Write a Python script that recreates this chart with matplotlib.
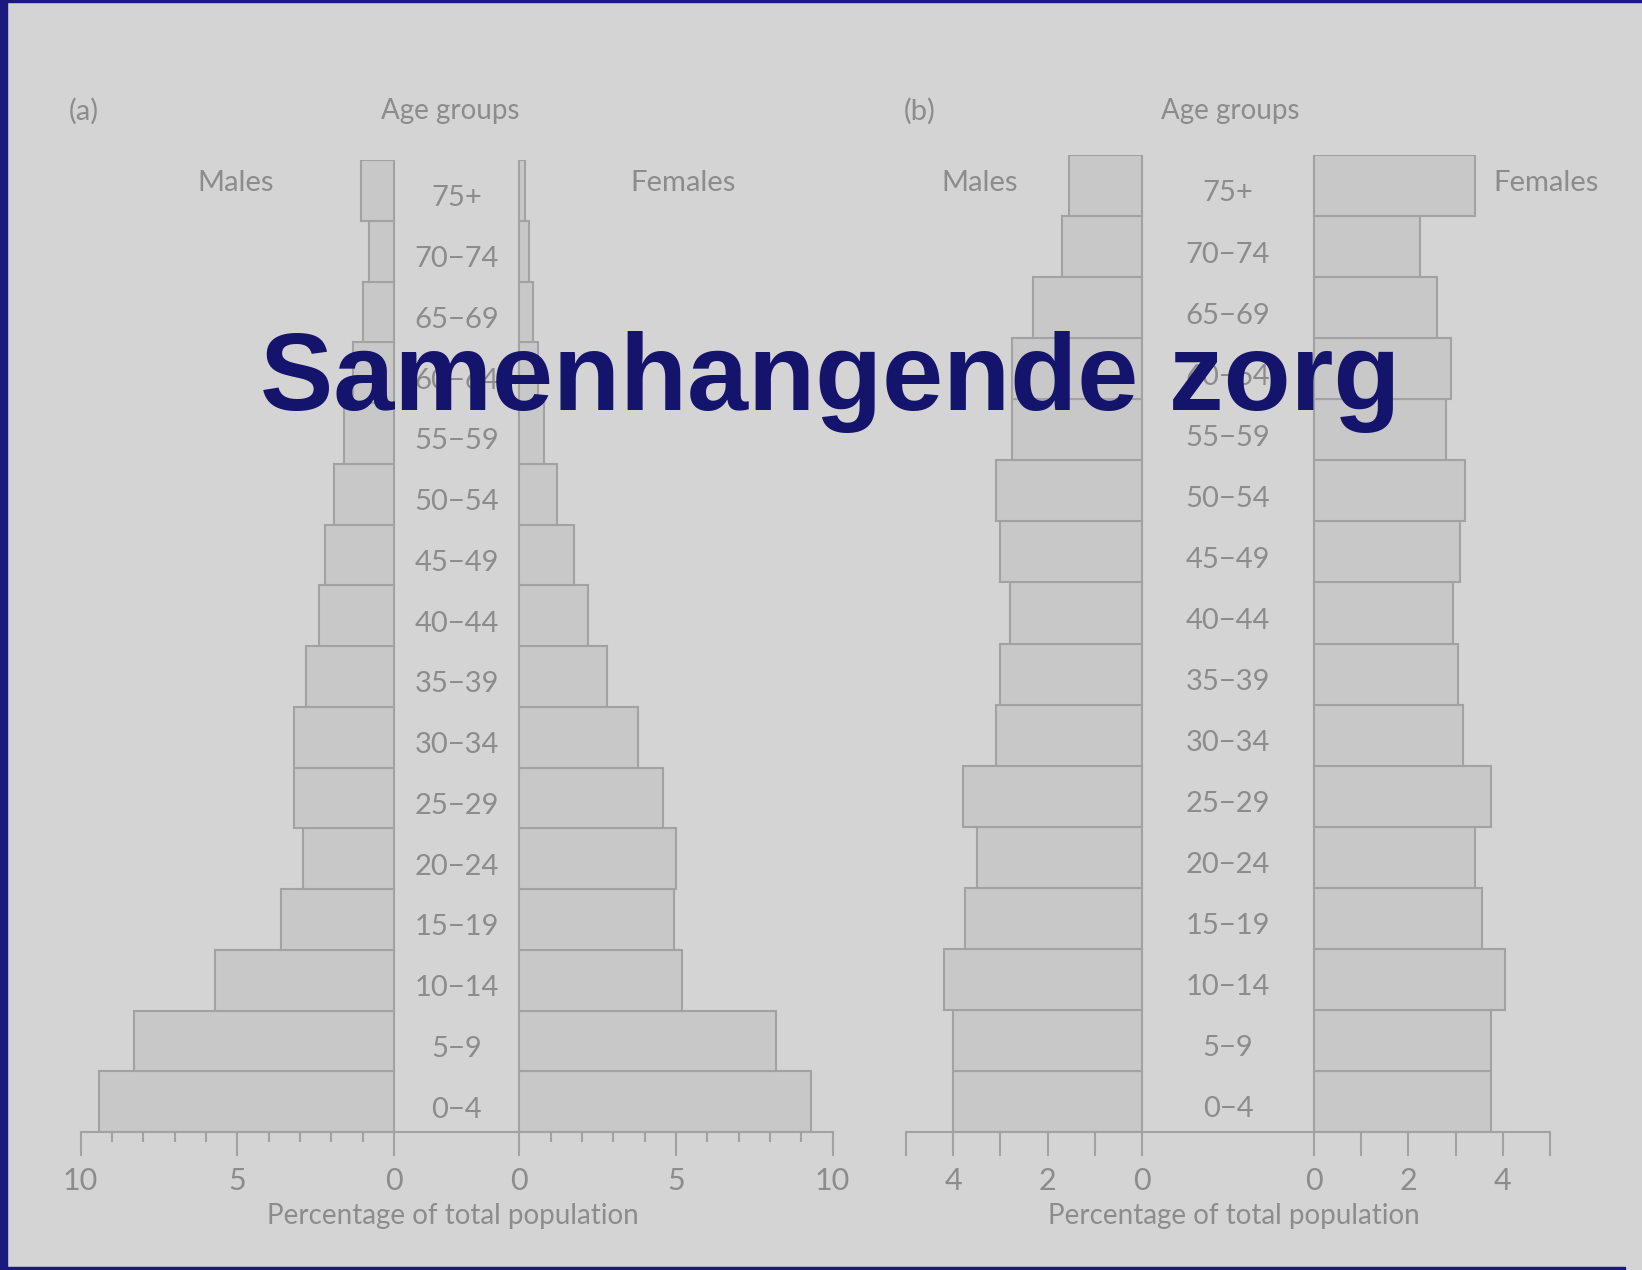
"""
population pyramids (a) and (b) with slide title
"""

import matplotlib.pyplot as plt
from matplotlib.patches import Rectangle

bg = '#d4d4d4'
bar_fill = '#c8c8c8'
bar_edge = '#a2a2a2'
text_gray = '#8c8c8c'
navy = '#14146c'
border = '#1a1a7e'

age_groups = ['0\u22124', '5\u22129', '10\u221214', '15\u221219', '20\u221224', '25\u221229',
              '30\u221234', '35\u221239', '40\u221244', '45\u221249', '50\u221254', '55\u221259',
              '60\u221264', '65\u221269', '70\u221274', '75+']

# (a) percentages, 0-4 first
males_a = [9.4, 8.3, 5.7, 3.6, 2.9, 3.2, 3.2, 2.8, 2.4, 2.2, 1.9, 1.6, 1.3, 1.0, 0.8, 1.05]
females_a = [9.3, 8.2, 5.2, 4.95, 5.0, 4.6, 3.8, 2.8, 2.2, 1.75, 1.2, 0.8, 0.6, 0.45, 0.3, 0.2]

# (b) percentages, 0-4 first
males_b = [4.0, 4.0, 4.2, 3.75, 3.5, 3.8, 3.1, 3.0, 2.8, 3.0, 3.1, 2.75, 2.75, 2.3, 1.7, 1.55]
females_b = [3.75, 3.75, 4.05, 3.55, 3.4, 3.75, 3.15, 3.05, 2.95, 3.1, 3.2, 2.8, 2.9, 2.6, 2.25, 3.4]

W, H = 1642, 1270
font = ['Lato', 'DejaVu Sans']
fs = 21


def px_axes(fig, left, top, right, bottom):
    # pixel box -> figure fraction
    return fig.add_axes([left / W, 1 - bottom / H, (right - left) / W, (bottom - top) / H])


def fig_text(fig, x, y, s, **kw):
    kw.setdefault('color', text_gray)
    kw.setdefault('family', font)
    kw.setdefault('fontsize', 20)
    kw.setdefault('ha', 'center')
    kw.setdefault('va', 'center')
    fig.text(x / W, 1 - y / H, s, **kw)


def pyramid(ax, males, females, gap, span, ticks, labeled, long_ticks=None):
    ys = range(len(males))
    ax.barh(ys, [-m for m in males], left=0, height=1.0,
            color=bar_fill, edgecolor=bar_edge, linewidth=1.5)
    ax.barh(ys, females, left=gap, height=1.0,
            color=bar_fill, edgecolor=bar_edge, linewidth=1.5)
    # labels sit a little below the bar centres in the original
    for y, lab in zip(ys, age_groups):
        ax.text(gap / 2, y - 0.13, lab, ha='center', va='center',
                fontsize=fs, color=text_gray, family=font)

    ax.set_xlim(-span, gap + span)
    ax.set_ylim(-0.5, len(males) - 0.5)
    ax.set_facecolor('none')
    for side in ['top', 'left', 'right']:
        ax.spines[side].set_visible(False)
    ax.spines['bottom'].set_color(bar_edge)
    ax.spines['bottom'].set_linewidth(1.5)
    ax.set_yticks([])

    pos = [-t for t in ticks] + [gap + t for t in ticks]
    labs = [str(t) if t in labeled else '' for t in ticks] * 2
    ax.set_xticks(pos, labs)
    ax.tick_params(axis='x', length=17, width=1.5, color=bar_edge, pad=8,
                   labelsize=fs + 1, labelcolor=text_gray)
    for lab in ax.get_xticklabels():
        lab.set_family(font)
    if long_ticks is not None:
        short = [-t for t in ticks if t not in long_ticks] + \
                [gap + t for t in ticks if t not in long_ticks]
        for tl, p in zip(ax.xaxis.get_major_ticks(), pos):
            if p in short:
                tl.tick1line.set_markersize(7)


fig = plt.figure(figsize=(W / 100, H / 100), dpi=100)
fig.patch.set_facecolor(bg)

ax_a = px_axes(fig, 80.6, 160, 832.5, 1132)
pyramid(ax_a, males_a, females_a, gap=4.0, span=10,
        ticks=list(range(11)), labeled=[0, 5, 10], long_ticks=[0, 5, 10])

ax_b = px_axes(fig, 906, 155, 1550, 1132)
pyramid(ax_b, males_b, females_b, gap=3.65, span=5,
        ticks=list(range(6)), labeled=[0, 2, 4])

fig_text(fig, 84, 111, '(a)', fontsize=21)
fig_text(fig, 450, 111, 'Age groups')
fig_text(fig, 236, 183, 'Males', fontsize=21)
fig_text(fig, 683, 183, 'Females', fontsize=21)
fig_text(fig, 453, 1216, 'Percentage of total population')

fig_text(fig, 920, 111, '(b)', fontsize=21)
fig_text(fig, 1230, 111, 'Age groups')
fig_text(fig, 980, 183, 'Males', fontsize=21)
fig_text(fig, 1546, 183, 'Females', fontsize=21)
fig_text(fig, 1234, 1216, 'Percentage of total population')

fig_text(fig, 830, 382, 'Samenhangende zorg', fontsize=79, fontweight='bold',
         color=navy, family=['Liberation Sans', 'DejaVu Sans'])

# slide border
fig.patches.append(Rectangle((0, 0), 7 / W, 1, transform=fig.transFigure,
                             color=border, zorder=10))
fig.patches.append(Rectangle((0, 1 - 2 / H), 1, 2 / H, transform=fig.transFigure,
                             color=border, zorder=10))
fig.patches.append(Rectangle((0, 0), 1625 / W, 3 / H, transform=fig.transFigure,
                             color=border, zorder=10))

fig.savefig('out.png', dpi=100, facecolor=bg)
